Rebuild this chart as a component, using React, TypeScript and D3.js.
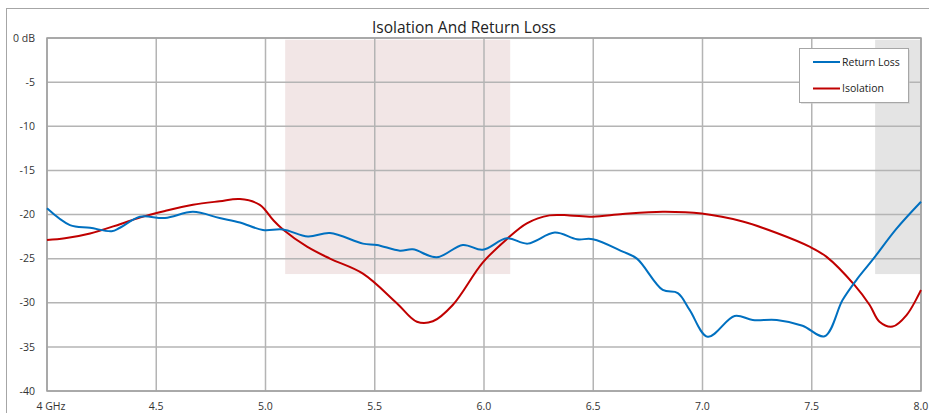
import * as d3 from 'd3';
import React from 'react';

// frequency (GHz) and level (dB)
const returnFreq = [4.0, 4.105, 4.197, 4.296, 4.334, 4.425, 4.54, 4.668, 4.79, 4.883, 4.988, 5.08, 5.194, 5.295, 5.446, 5.51, 5.615, 5.674, 5.784, 5.903, 5.994, 6.104, 6.2, 6.324, 6.425, 6.498, 6.635, 6.7, 6.818, 6.887, 6.941, 7.024, 7.147, 7.23, 7.34, 7.458, 7.559, 7.641, 7.705, 7.778, 7.888, 8.0];
const returnLoss = [-19.3, -21.2, -21.5, -21.9, -21.5, -20.25, -20.4, -19.7, -20.4, -20.9, -21.75, -21.7, -22.5, -22.1, -23.3, -23.45, -24.1, -23.95, -24.85, -23.45, -24.0, -22.7, -23.3, -22.05, -22.8, -22.8, -24.2, -25.0, -28.55, -28.9, -30.8, -33.85, -31.5, -31.95, -31.95, -32.6, -33.8, -29.7, -27.4, -25.15, -21.6, -18.55];

const isoFreq = [4.0, 4.082, 4.197, 4.334, 4.425, 4.54, 4.668, 4.79, 4.883, 4.974, 5.034, 5.08, 5.19, 5.295, 5.446, 5.601, 5.693, 5.766, 5.857, 5.994, 6.104, 6.196, 6.3, 6.392, 6.498, 6.635, 6.818, 6.996, 7.184, 7.34, 7.49, 7.568, 7.696, 7.765, 7.81, 7.87, 7.934, 8.0];
const isolation = [-22.9, -22.7, -22.15, -21.1, -20.35, -19.6, -18.9, -18.5, -18.25, -18.9, -20.6, -21.7, -23.65, -25.0, -26.7, -30.05, -32.15, -32.1, -30.25, -25.45, -22.8, -21.0, -20.1, -20.1, -20.25, -19.95, -19.7, -19.9, -20.8, -22.1, -23.65, -24.8, -28.0, -30.25, -32.15, -32.7, -31.4, -28.55];

const xTicks = [4, 4.5, 5, 5.5, 6, 6.5, 7, 7.5, 8];
const xTickLabels = ['4 GHz', '4.5', '5.0', '5.5', '6.0', '6.5', '7.0', '7.5', '8.0'];
const yTicks = [0, -5, -10, -15, -20, -25, -30, -35, -40];
const yTickLabels = ['0 dB', '-5', '-10', '-15', '-20', '-25', '-30', '-35', '-40'];

// shaded spec bands: [f0, f1, top dB, bottom dB]
const bandPink = [5.09, 6.12, -0.2, -26.75];
const bandGray = [7.79, 8.0, -0.2, -26.75];

const seriesNames = ['Return Loss', 'Isolation'];

const W = 929, H = 413;
const left = 47, right = 921, top = 38, bottom = 391;
const font = '"Open Sans", "Noto Sans", sans-serif';

export default function App() {
    const x = d3.scaleLinear().domain([4, 8]).range([left, right]);
    const y = d3.scaleLinear().domain([-40, 0]).range([bottom, top]);

    const line = d3.line<[number, number]>()
        .x(d => x(d[0]))
        .y(d => y(d[1]))
        .curve(d3.curveCatmullRom.alpha(0.5));

    const rl = line(returnFreq.map((f, i) => [f, returnLoss[i]] as [number, number]));
    const iso = line(isoFreq.map((f, i) => [f, isolation[i]] as [number, number]));

    const band = (b: number[], fill: string) => (
        <rect x={x(b[0])} y={y(b[2])} width={x(b[1]) - x(b[0])} height={y(b[3]) - y(b[2])} fill={fill} />
    );

    const colors = ['#0070c0', '#c00000'];

    return (
        <div style={{ position: 'absolute', left: 0, top: 0 }}>
            <svg width={W} height={H} style={{ display: 'block', background: '#fff' }}>
                <rect x={6.5} y={8.5} width={940} height={420} fill="#fff" stroke="#a6a6a6" />
                <text x={464} y={33} textAnchor="middle" fontFamily={font} fontSize={15.5} fill="#222">
                    Isolation And Return Loss
                </text>

                {band(bandPink, '#f2e6e6')}
                {band(bandGray, '#e4e4e4')}

                {xTicks.map(t => (
                    <line key={'gx' + t} x1={x(t)} x2={x(t)} y1={top} y2={bottom} stroke="#b4b4b4" strokeWidth={1.5} />
                ))}
                {yTicks.map(t => (
                    <line key={'gy' + t} x1={left} x2={right} y1={y(t)} y2={y(t)} stroke="#b4b4b4" strokeWidth={1.5} />
                ))}
                <rect x={left} y={top} width={right - left} height={bottom - top} fill="none" stroke="#a0a0a0" strokeWidth={1.5} />

                {yTicks.map((t, i) => (
                    <text key={'ly' + t} x={35} y={y(t)} dy="0.35em" textAnchor="end" fontFamily={font} fontSize={10.5} fill="#333">
                        {yTickLabels[i]}
                    </text>
                ))}
                {xTicks.map((t, i) => (
                    <text key={'lx' + t} x={x(t) + (i === 0 ? 4 : 0)} y={410} textAnchor="middle" fontFamily={font} fontSize={10.5} fill="#333">
                        {xTickLabels[i]}
                    </text>
                ))}

                <path d={iso || ''} fill="none" stroke={colors[1]} strokeWidth={2} />
                <path d={rl || ''} fill="none" stroke={colors[0]} strokeWidth={2} />

                {/* legend */}
                <rect x={801} y={50} width={109} height={54} fill="#c8c8c8" opacity={0.5} />
                <rect x={799.5} y={48.5} width={109} height={54} fill="#fff" stroke="#a6a6a6" />
                {seriesNames.map((name, i) => (
                    <g key={name} transform={`translate(813, ${62 + i * 26.5})`}>
                        <line x1={0} x2={27} y1={0} y2={0} stroke={colors[i]} strokeWidth={2} />
                        <text x={29} y={0} dy="0.35em" fontFamily={font} fontSize={10.5} fill="#222">{name}</text>
                    </g>
                ))}
            </svg>
        </div>
    );
}
